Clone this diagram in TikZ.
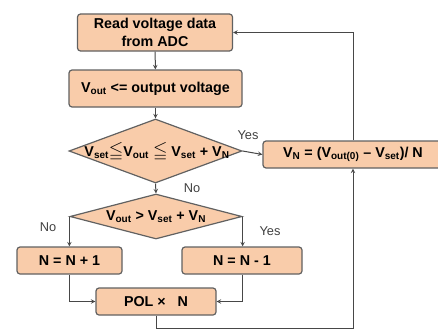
\documentclass[tikz,border=0pt]{standalone}
\usepackage{fontspec}
\setmainfont{Liberation Sans}
\usepackage{amssymb}
\tikzset{>=stealth}
\usetikzlibrary{shapes,positioning}
\definecolor{fill1}{RGB}{249,204,170}
\colorlet{penColor}{black!62}
\colorlet{lineColor}{black!72}
\colorlet{labelColor}{black!75}
\tikzset{
  box/.style={draw=penColor,fill=fill1,line width=1.2pt,rounded corners=3pt,
    inner sep=0pt,align=center,font=\fontsize{14.3}{18}\selectfont\bfseries},
  decision/.style={diamond,draw=penColor,fill=fill1,line width=1.2pt,inner sep=0pt},
  dtext/.style={font=\fontsize{14.3}{18}\selectfont\bfseries,inner sep=0pt},
  answer/.style={font=\fontsize{12.8}{14}\selectfont,text=labelColor},
  flow/.style={->,draw=lineColor,line width=1pt}
}
\newcommand{\lowpart}[1]{\textsubscript{#1}}
\newcommand{\leqsign}{\scalebox{1.3}{$\leqq$}}

\begin{document}
\begin{tikzpicture}[x=1pt,y=-1pt]
      \clip (0,0) rectangle (438,329);
      % boxes
      \node[box,minimum width=155pt,minimum height=37pt] (read) at (155,32.5) {Read voltage data\\from ADC};
      \node[box,minimum width=173pt,minimum height=37pt] (vout) at (155.5,88.5) {V\lowpart{out} <= output voltage};
      \node[decision,minimum width=173pt,minimum height=64pt] (d1) at (155.5,151) {};
      \node[dtext] (d1text) at (157,152) {V\lowpart{set}\leqsign V\lowpart{out} \leqsign{} V\lowpart{set} + V\lowpart{N}};
      \node[box,minimum width=182pt,minimum height=27pt] (vn) at (354,154.5) {};
      \node[dtext] (vntext) at (353,154.5) {V\lowpart{N} = (V\lowpart{out(0)} -- V\lowpart{set})/ N};
      \node[decision,minimum width=172pt,minimum height=45pt] (d2) at (156,216.5) {};
      \node[dtext] (d2text) at (156,217) {V\lowpart{out} > V\lowpart{set} + V\lowpart{N}};
      \node[box,minimum width=105pt,minimum height=27pt] (np1) at (69.5,260.5) {N = N + 1};
      \node[box,minimum width=120pt,minimum height=27pt] (nm1) at (242,260.5) {N = N - 1};
      \node[box,minimum width=120pt,minimum height=27pt] (pol) at (156,301.5) {POL ×~~~N};
      % labels
      \node[answer] (yes1) at (248,135) {Yes};
      \node[answer] (no1) at (192,188) {No};
      \node[answer] (no2) at (48,227) {No};
      \node[answer] (yes2) at (270,231) {Yes};
      % loop corners
      \coordinate (topR) at (353,32.5);
      \coordinate (botL) at (156,328);
      \coordinate (botR) at (353,328);
      % connectors
      \draw[flow] (read) -- (vout);
      \draw[flow] (vout) -- (d1.north);
      \draw[flow] (d1.south) -- (d2.north);
      \draw[flow] (d1.east) -- (vn.west);
      \draw[flow] (d2.west) -- (d2.west |- np1.north);
      \draw[flow] (d2.east) -- (d2.east |- nm1.north);
      \draw[flow] (np1.south) |- (pol.west);
      \draw[flow] (nm1.south) |- (pol.east);
      \draw[flow] (vn.north -| topR) -- (topR) -- (read.east);
      \draw[flow] (pol.south) -- (pol.south |- botL) -- (botR) -- (botR |- vn.south);
\end{tikzpicture}
\end{document}
